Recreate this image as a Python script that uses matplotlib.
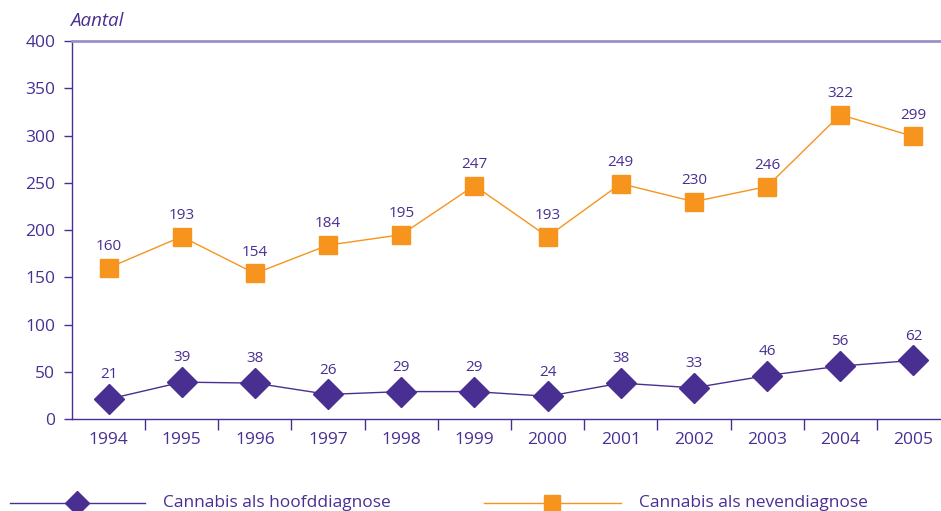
import matplotlib.pyplot as plt
from matplotlib.lines import Line2D

years = ['1994', '1995', '1996', '1997', '1998', '1999', '2000', '2001', '2002', '2003', '2004', '2005']
hoofd = [21, 39, 38, 26, 29, 29, 24, 38, 33, 46, 56, 62]
neven = [160, 193, 154, 184, 195, 247, 193, 249, 230, 246, 322, 299]
y_ticks = [0, 50, 100, 150, 200, 250, 300, 350, 400]

purple = '#4a2f93'
orange = '#f7941d'

plt.rcParams['font.family'] = ['Open Sans', 'DejaVu Sans']

fig = plt.figure(figsize=(9.41, 5.11), dpi=100)
# axes runs slightly past the right edge, like the original
ax = fig.add_axes([72 / 941, 1 - 419 / 511, 878 / 941, 378 / 511])

x = list(range(len(years)))
ax.plot(x, hoofd, color=purple, lw=1, marker='D', ms=15, mec=purple, mfc=purple, clip_on=False)
ax.plot(x, neven, color=orange, lw=1, marker='s', ms=12.5, mec=orange, mfc=orange, clip_on=False)

for i in x:
    ax.annotate(str(hoofd[i]), (i, hoofd[i]), xytext=(0, 12), textcoords='offset points',
                ha='center', va='bottom', color=purple, fontsize=11)
    ax.annotate(str(neven[i]), (i, neven[i]), xytext=(0, 10), textcoords='offset points',
                ha='center', va='bottom', color=purple, fontsize=11)

ax.set_xlim(-0.5, len(years) - 0.5)
ax.set_ylim(0, 400)
ax.set_yticks(y_ticks)
ax.set_yticklabels([str(v) for v in y_ticks])
ax.set_xticks([i + 0.5 for i in x[:-1]])
ax.set_xticklabels([])
ax.set_xticks(x, minor=True)
ax.set_xticklabels(years, minor=True)
ax.tick_params(axis='x', which='major', direction='out', length=8, color=purple, width=1)
ax.tick_params(axis='x', which='minor', length=0, pad=9, labelsize=12.5, labelcolor=purple)
ax.tick_params(axis='y', direction='out', length=6, color=purple, width=1, pad=6,
               labelsize=12.5, labelcolor=purple)

for side in ['left', 'bottom']:
    ax.spines[side].set_color(purple)
    ax.spines[side].set_linewidth(1)
ax.spines['right'].set_visible(False)
ax.spines['top'].set_color('#9b8fc7')
ax.spines['top'].set_linewidth(2)

fig.text(70 / 941, 1 - 21 / 511, 'Aantal', color=purple, fontsize=13.5, style='italic',
         ha='left', va='center')

# legend drawn by hand at the bottom
ly = 1 - 503 / 511
fig.add_artist(Line2D([10 / 941, 145 / 941], [ly, ly], color=purple, lw=1, transform=fig.transFigure))
fig.add_artist(Line2D([77 / 941], [ly], color=purple, marker='D', ms=12, ls='none', transform=fig.transFigure))
fig.text(163 / 941, ly, 'Cannabis als hoofddiagnose', color=purple, fontsize=12.5, va='center', ha='left')
fig.add_artist(Line2D([484 / 941, 621 / 941], [ly, ly], color=orange, lw=1, transform=fig.transFigure))
fig.add_artist(Line2D([552 / 941], [ly], color=orange, marker='s', ms=11, ls='none', transform=fig.transFigure))
fig.text(639 / 941, ly, 'Cannabis als nevendiagnose', color=purple, fontsize=12.5, va='center', ha='left')

fig.savefig('out.png', dpi=100)
